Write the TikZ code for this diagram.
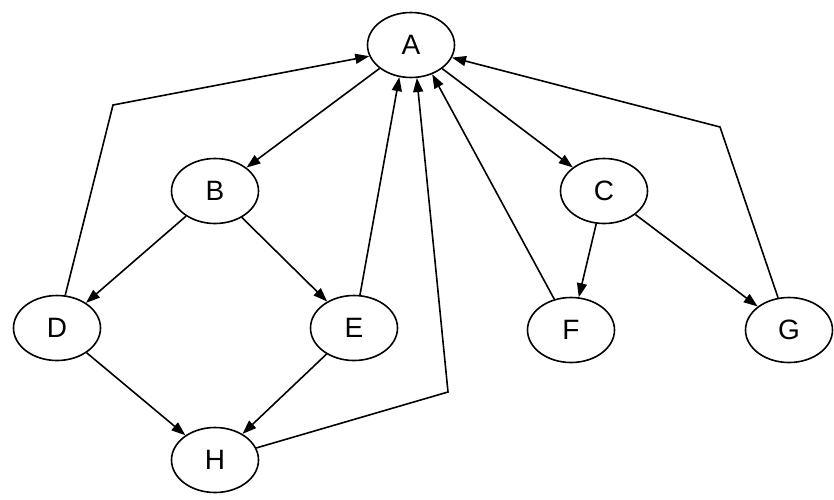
\documentclass[tikz,border=0pt]{standalone}
\usepackage{fontspec}
\setmainfont{Liberation Sans}
\usetikzlibrary{arrows.meta,shapes.geometric}
\begin{document}
\begin{tikzpicture}[x=1pt,y=-1pt,
  vtx/.style={ellipse,draw,line width=1.6pt,minimum width=87pt,minimum height=65pt,inner sep=0pt,font=\fontsize{28}{32}\selectfont},
  edge/.style={line width=1.6pt,-{Triangle[length=14pt,width=10pt]}},
  plain/.style={line width=1.6pt}]
\useasboundingbox (0,0) rectangle (834,499);
\node[vtx] (A) at (411,45) {A};
\node[vtx] (B) at (215,191) {B};
\node[vtx] (C) at (604,191) {C};
\node[vtx] (D) at (57,328) {D};
\node[vtx] (E) at (354,328) {E};
\node[vtx] (F) at (571,330) {F};
\node[vtx] (G) at (789,330) {G};
\node[vtx] (H) at (215,460) {H};
\coordinate (dbend) at (113,105);
\coordinate (hbend) at (448,392);
\coordinate (gbend) at (720,127);
\draw[edge] (A) -- (B);
\draw[edge] (A) -- (C);
\draw[edge] (B) -- (D);
\draw[edge] (B) -- (E);
\draw[edge] (C) -- (F);
\draw[edge] (C) -- (G);
\draw[edge] (D) -- (H);
\draw[edge] (E) -- (H);
\draw[edge] (E) -- (A.250);
\draw[edge] (F) -- (A.306);
\draw[edge] (D) -- (dbend) -- (A.195);
\draw[edge] (H) -- (hbend) -- (A.280);
\draw[edge] (G) -- (gbend) -- (A.343);
\end{tikzpicture}
\end{document}
